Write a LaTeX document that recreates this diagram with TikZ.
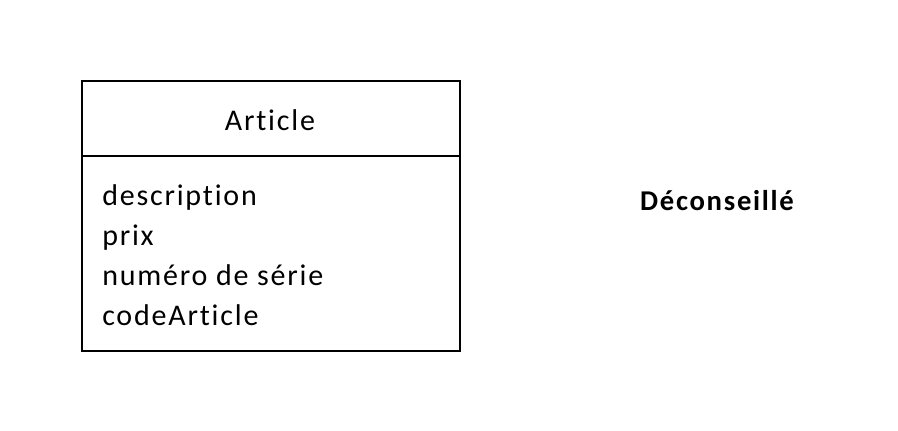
\documentclass[tikz,border=0pt]{standalone}
\usepackage{fontspec}
\setmainfont{Carlito}[LetterSpace=6,Ligatures={NoCommon}]
\begin{document}
\begin{tikzpicture}[x=0.75pt,y=-0.75pt,
  boxline/.style={draw=black,line width=1.5pt},
  attr/.style={anchor=base west,inner sep=0pt,font=\fontsize{22.5}{26}\selectfont},
  ttl/.style={anchor=base,inner sep=0pt,font=\fontsize{22.5}{26}\selectfont},
  note/.style={anchor=base,inner sep=0pt,font=\fontsize{21.5}{25}\selectfont\bfseries}]
\useasboundingbox (0,0) rectangle (898,430);
\node[boxline,rectangle,minimum width=378*0.75pt,minimum height=270*0.75pt,anchor=north west,inner sep=0pt] (cls) at (81,80) {};
\coordinate (dl) at (81,156);
\coordinate (dr) at (459,156);
\draw[line width=1.5pt] (dl) -- (dr);
\node[ttl] (title) at (270,130) {Article};
\node[attr] (a1) at (102,205) {description};
\node[attr] (a2) at (102,245) {prix};
\node[attr] (a3) at (102,285) {numéro de série};
\node[attr] (a4) at (102,325) {codeArticle};
\node[note] (dec) at (717,210) {Déconseillé};
\end{tikzpicture}
\end{document}
